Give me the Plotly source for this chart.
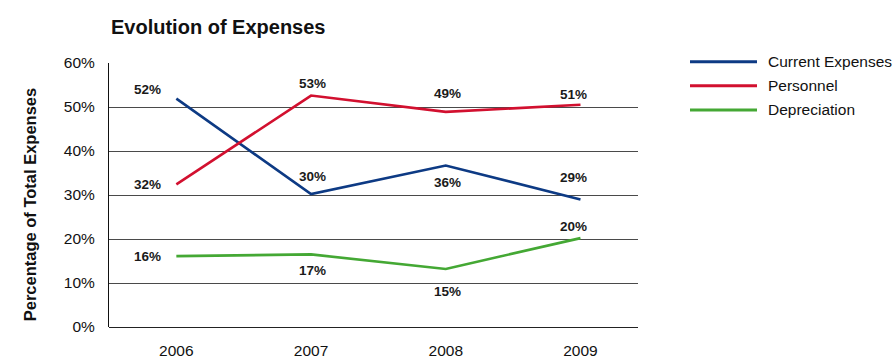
import plotly.graph_objects as go

years = ["2006", "2007", "2008", "2009"]
series_names = ["Current Expenses", "Personnel", "Depreciation"]
current_expenses = [51.9, 30.2, 36.7, 29.0]
personnel = [32.4, 52.6, 48.9, 50.5]
depreciation = [16.1, 16.5, 13.2, 20.2]
current_labels = ["52%", "30%", "36%", "29%"]
personnel_labels = ["32%", "53%", "49%", "51%"]
depreciation_labels = ["16%", "17%", "15%", "20%"]
y_ticks = [0, 10, 20, 30, 40, 50, 60]

colors = ["#0D3A84", "#D2102F", "#44A834"]
values = [current_expenses, personnel, depreciation]
labels = [current_labels, personnel_labels, depreciation_labels]
# label offsets (style): (dx, dy) in px, dy positive = up
offsets = [
    [(-29, 9), (1.5, 18), (2, -17), (-7, 21.5)],
    [(-29, 0), (1.5, 12), (2, 18), (-7, 10)],
    [(-29, 0), (1.5, -16.5), (2, -23), (-7, 12)],
]

W, H = 895, 358
L, R, T, B = 109, 257, 63, 31
pw, ph = W - L - R, H - T - B
FONT = "Liberation Sans, Arial, Helvetica, sans-serif"

xidx = list(range(len(years)))
fig = go.Figure()
for name, vals, col in zip(series_names, values, colors):
    fig.add_trace(go.Scatter(x=xidx, y=vals, mode="lines", name=name,
                             line=dict(color=col, width=2.6), showlegend=False,
                             hoverinfo="skip"))

lab_font = dict(family=FONT, size=13.5, color="#1a1a1a")
annotations = []
for vals, labs, offs in zip(values, labels, offsets):
    for i, (v, t) in enumerate(zip(vals, labs)):
        dx, dy = offs[i]
        annotations.append(dict(x=i, y=v, xref="x", yref="y", text=f"<b>{t}</b>", showarrow=False,
                                xshift=dx, yshift=dy, font=lab_font,
                                xanchor="center", yanchor="middle"))

# title
annotations.append(dict(x=0, y=1, xref="paper", yref="paper", xanchor="left", yanchor="middle",
                        xshift=0, yshift=T - 27, showarrow=False, text="<b>Evolution of Expenses</b>",
                        font=dict(family=FONT, size=20, color="#111")))
# y axis title
annotations.append(dict(x=0, y=(326.7 - 204) / ph, xref="paper", yref="paper",
                        xanchor="center", yanchor="middle", xshift=30 - L, showarrow=False,
                        textangle=-90, text="<b>Percentage of Total Expenses</b>",
                        font=dict(family=FONT, size=16.5, color="#111")))

# manual legend
shapes = []
legend_rows = [61.7, 85.7, 110]
for name, col, py in zip(series_names, colors, legend_rows):
    yp = (H - B - py) / ph
    shapes.append(dict(type="line", xref="paper", yref="paper",
                       x0=(690 - L) / pw, x1=(757 - L) / pw, y0=yp, y1=yp,
                       line=dict(color=col, width=3)))
    annotations.append(dict(x=(766 - L) / pw, y=yp, xref="paper", yref="paper",
                            xanchor="left", yanchor="middle", showarrow=False, text=name,
                            font=dict(family=FONT, size=15.5, color="#111")))

fig.update_layout(
    width=W, height=H,
    margin=dict(l=L, r=R, t=T, b=B),
    paper_bgcolor="white", plot_bgcolor="white",
    annotations=annotations, shapes=shapes,
    xaxis=dict(range=[-0.5, 3.427], tickmode="array", tickvals=xidx, ticktext=years,
               showgrid=False, zeroline=False, showline=False, ticks="",
               automargin=False,
               tickfont=dict(family=FONT, size=15.5, color="#111"),
               ticklabelstandoff=12, fixedrange=True),
    yaxis=dict(range=[0, 60], tickmode="array", tickvals=y_ticks,
               ticktext=[f"{v}%" for v in y_ticks],
               showgrid=True, gridcolor="#4a4a4a", gridwidth=1,
               zeroline=True, zerolinecolor="#222", zerolinewidth=1,
               showline=True, linecolor="#111", linewidth=1, ticks="",
               automargin=False,
               tickfont=dict(family=FONT, size=15.5, color="#111"),
               ticklabelstandoff=10, fixedrange=True),
)

fig.write_html("out.html", config={"displayModeBar": False},
               post_script="document.body.style.margin='0';document.body.style.overflow='hidden';")
